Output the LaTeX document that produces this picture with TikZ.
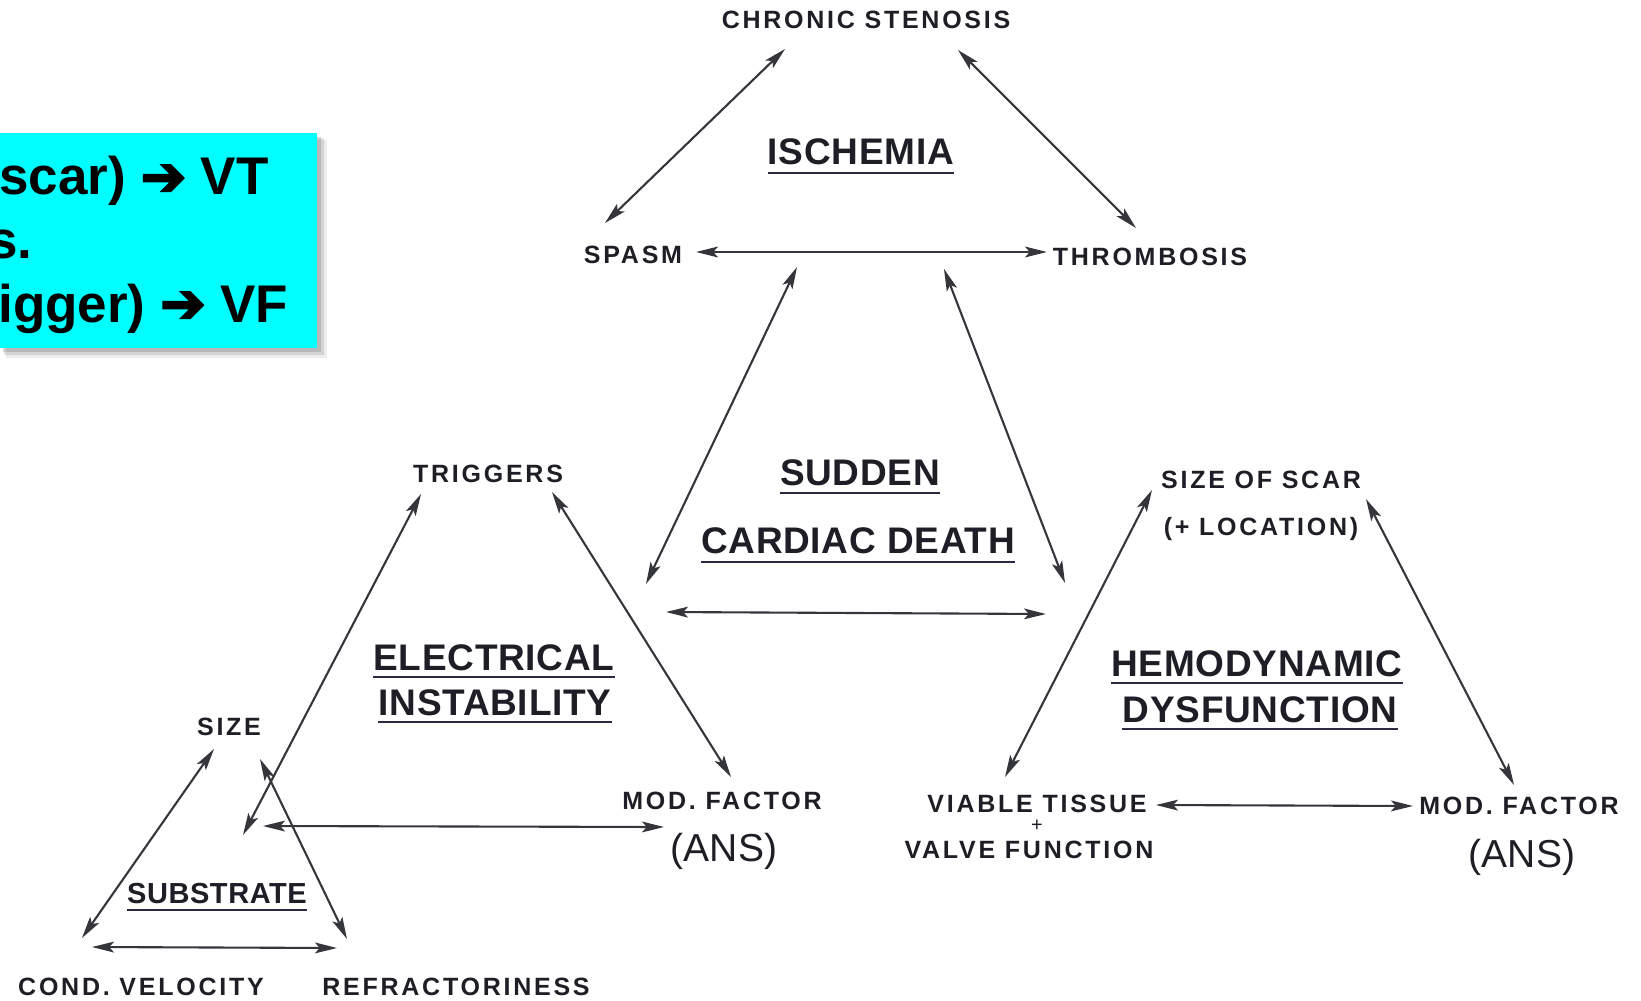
\documentclass[tikz,border=0pt]{standalone}
\usepackage{fontspec}
\setmainfont{Liberation Sans}
\newfontfamily\lblfont{Liberation Sans}[LetterSpace=11]
\newfontfamily\ttlfont{Liberation Sans}[LetterSpace=2]
\newfontfamily\symfont{DejaVu Sans}[FakeBold=4]
\usetikzlibrary{arrows.meta}
\definecolor{ink}{HTML}{1E1E26}
\definecolor{linec}{HTML}{35353C}
\definecolor{uln}{HTML}{2A2A44}
\definecolor{boxcyan}{HTML}{00FFFF}
\tikzset{
  lbl/.style={font=\lblfont\bfseries\fontsize{12.5}{14}\selectfont, text=ink, inner sep=0pt, anchor=base},
  ttl/.style={font=\ttlfont\bfseries\fontsize{18.5}{22}\selectfont, text=ink, inner sep=0pt, anchor=base},
  sttl/.style={font=\ttlfont\bfseries\fontsize{14.5}{17}\selectfont, text=ink, inner sep=0pt, anchor=base},
  ans/.style={font=\fontsize{19.5}{23}\selectfont, text=ink, inner sep=0pt, anchor=base},
  boxtxt/.style={font=\bfseries\fontsize{26.5}{30}\selectfont, text=black, inner sep=0pt},
  link/.style={draw=linec, line width=1.05pt, {Stealth[length=11pt,width=5.4pt,inset=2.4pt]}-{Stealth[length=11pt,width=5.4pt,inset=2.4pt]}},
  uline/.style={draw=uln, line width=1.1pt}
}
\newcommand{\bigarr}{{\symfont\fontsize{27}{30}\selectfont ➔}}
\begin{document}
\begin{tikzpicture}[x=0.5pt,y=-0.5pt]
\useasboundingbox[fill=white] (0,0) rectangle (1641,1000);

% cyan box with shadow
\fill[black,opacity=0.07] (6,140) rectangle (327,358);
\fill[black,opacity=0.10] (4,138) rectangle (324,355);
\fill[black,opacity=0.13] (3,137) rectangle (321,352);
\fill[boxcyan] (0,133) rectangle (317,348);
\node[boxtxt, anchor=base west] (b1) at (-1,195) {scar) \bigarr\ VT};
\node[boxtxt, anchor=base east] (b2) at (33,258) {s.};
\node[boxtxt, anchor=base west] (b3) at (-2,322) {igger) \bigarr\ VF};

% ischemia
\node[lbl] (cs) at (866,29) {CHRONIC STENOSIS};
\node[lbl] (sp) at (633,263) {SPASM};
\node[lbl] (th) at (1150,265) {THROMBOSIS};
\node[ttl] (isch) at (861,165) {ISCHEMIA};
\draw[uline] ([yshift=-4pt]isch.base west) -- ([yshift=-4pt]isch.base east);
\coordinate (a1s) at (785,49);  \coordinate (a1e) at (605,223);
\coordinate (a2s) at (958,50);  \coordinate (a2e) at (1136,228);
\coordinate (a3s) at (696,252); \coordinate (a3e) at (1047,252);
\draw[link] (a1s) -- (a1e);
\draw[link] (a2s) -- (a2e);
\draw[link] (a3s) -- (a3e);

% sudden cardiac death
\node[ttl] (sud) at (860,485) {SUDDEN};
\draw[uline] ([yshift=-4pt]sud.base west) -- ([yshift=-4pt]sud.base east);
\node[ttl] (cdd) at (858,553) {CARDIAC DEATH};
\draw[uline] ([yshift=-4.5pt]cdd.base west) -- ([yshift=-4.5pt]cdd.base east);
\coordinate (b1s) at (797,267); \coordinate (b1e) at (646,584);
\coordinate (b2s) at (944,269); \coordinate (b2e) at (1065,583);
\coordinate (b3s) at (666,612); \coordinate (b3e) at (1046,614);
\draw[link] (b1s) -- (b1e);
\draw[link] (b2s) -- (b2e);
\draw[link] (b3s) -- (b3e);

% electrical instability
\node[lbl] (trg) at (488,482) {TRIGGERS};
\node[lbl] (mf1) at (722,809) {MOD. FACTOR};
\node[ans] (ans1) at (724,861) {(ANS)};
\node[ttl] (ele) at (494,670) {ELECTRICAL};
\draw[uline] ([yshift=-3.5pt]ele.base west) -- ([yshift=-3.5pt]ele.base east);
\node[ttl] (ins) at (495,715) {INSTABILITY};
\draw[uline] ([yshift=-3.5pt]ins.base west) -- ([yshift=-3.5pt]ins.base east);
\coordinate (c1s) at (421,494); \coordinate (c1e) at (243,835);
\coordinate (c2s) at (552,492); \coordinate (c2e) at (731,777);
\coordinate (c3s) at (263,826); \coordinate (c3e) at (664,827);
\draw[link] (c1s) -- (c1e);
\draw[link] (c2s) -- (c2e);
\draw[link] (c3s) -- (c3e);

% substrate
\node[lbl] (sz) at (229,735) {SIZE};
\node[sttl] (sub) at (217,903) {SUBSTRATE};
\draw[uline] ([yshift=-3.5pt]sub.base west) -- ([yshift=-3.5pt]sub.base east);
\node[lbl] (cv) at (141,995) {COND. VELOCITY};
\node[lbl] (rf) at (456,995) {REFRACTORINESS};
\coordinate (d1s) at (214,749); \coordinate (d1e) at (82,938);
\coordinate (d2s) at (260,759); \coordinate (d2e) at (347,939);
\coordinate (d3s) at (92,947);  \coordinate (d3e) at (337,948);
\draw[link] (d1s) -- (d1e);
\draw[link] (d2s) -- (d2e);
\draw[link] (d3s) -- (d3e);

% hemodynamic dysfunction
\node[lbl] (sos) at (1261,488) {SIZE OF SCAR};
\node[lbl] (loc) at (1261,535) {(+ LOCATION)};
\node[ttl] (hem) at (1257,676) {HEMODYNAMIC};
\draw[uline] ([yshift=-3.5pt]hem.base west) -- ([yshift=-3.5pt]hem.base east);
\node[ttl] (dys) at (1260,722) {DYSFUNCTION};
\draw[uline] ([yshift=-3.5pt]dys.base west) -- ([yshift=-3.5pt]dys.base east);
\node[lbl] (vt) at (1037,812) {VIABLE TISSUE};
\node[font=\fontsize{10}{11}\selectfont, text=ink, inner sep=0pt] (pl) at (1037,826) {+};
\node[lbl] (vf) at (1029,858) {VALVE FUNCTION};
\node[lbl] (mf2) at (1519,814) {MOD. FACTOR};
\node[ans] (ans2) at (1522,867) {(ANS)};
\coordinate (e1s) at (1152,490); \coordinate (e1e) at (1005,777);
\coordinate (e2s) at (1366,499); \coordinate (e2e) at (1514,785);
\coordinate (e3s) at (1156,805); \coordinate (e3e) at (1413,806);
\draw[link] (e1s) -- (e1e);
\draw[link] (e2s) -- (e2e);
\draw[link] (e3s) -- (e3e);
\end{tikzpicture}
\end{document}
